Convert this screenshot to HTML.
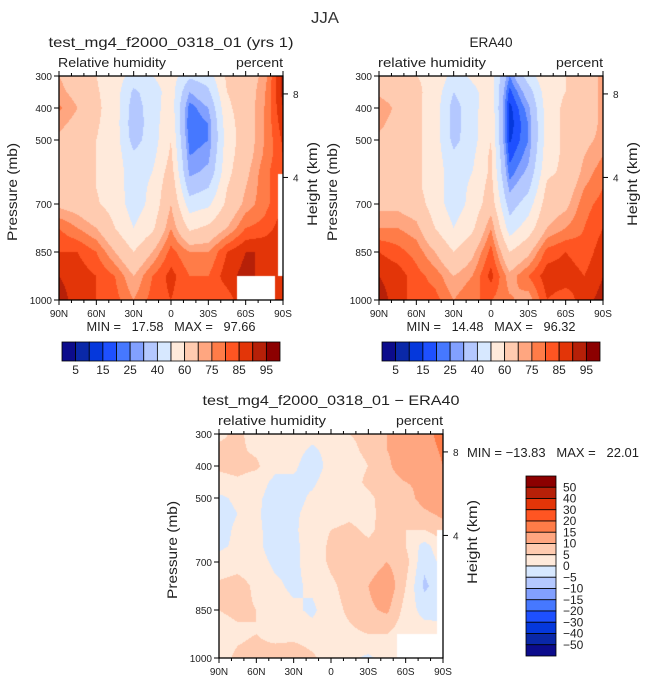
<!DOCTYPE html>
<html><head><meta charset="utf-8">
<style>
body{margin:0;background:#fff;width:647px;height:682px;overflow:hidden;position:relative;font-family:"Liberation Sans",sans-serif;}
canvas{position:absolute;left:0;top:0;}
svg{position:absolute;left:0;top:0;}
text{white-space:pre;}
</style></head>
<body>
<canvas id="cv" width="647" height="682"></canvas>
<svg id="sv" width="647" height="682"></svg>
<script>
const lats=['90N','75N','60N','45N','30N','15N','0','15S','30S','45S','60S','75S','90S'];
const latTicks=['90N','60N','30N','0','30S','60S','90S'];
const levels=[300,350,400,450,500,550,600,650,700,775,850,925,1000];
const pTicks=[300,400,500,700,850,1000];
const hTicks=[8,4];
const hTickP=[356,617];
const rhBounds=[5,10,15,20,25,30,40,50,60,70,75,80,85,90,95];
const rhLabels=['5','15','25','40','60','75','85','95'];
const dBounds=[-50,-40,-30,-20,-15,-10,-5,0,5,10,15,20,30,40,50];
const dLabels=['50','40','30','20','15','10','5','0','\u22125','\u221210','\u221215','\u221220','\u221230','\u221240','\u221250'];
const colors=['#0c0c8c','#0a28a8','#0538dc','#1e50ff','#4678ff','#82a0ff','#b4c8ff','#d7e8ff','#ffeadb','#ffcbb0','#ffa680','#ff7c48','#ff5522','#e33508','#b62008','#8c0000'];
const model=[
[70,72,76,72,68,66,66,66,68,80,85,90,92],
[65,67,70,67,65,65,65,65,66,75,85,88,88],
[60,61,62,61,60,60,60,60,61,70,80,85,85],
[55,55,55,55,55,55,55,55,56,60,70,80,82],
[46,38,35,34,36,42,45,45,45,50,60,70,75],
[50,45,45,45,45,47,50,52,53,58,70,80,82],
[55,55,56,58,60,62,65,68,70,75,82,87,85],
[42,30,22,20,22,25,28,35,45,58,75,80,80],
[45,38,30,25,25,28,32,40,48,62,75,80,80],
[62,60,58,56,55,56,57,60,62,70,85,88,82],
[65,65,65,65,65,66,68,70,72,80,90,92,90],
[72,74,75,75,75,76,78,78,78,82,90,88,88],
[92,92,90,88,86,85,85,85,85,88,90,90,90]];
const era=[
[62,68,75,72,68,65,65,65,68,75,85,90,92],
[62,65,68,66,65,65,65,65,68,75,82,88,88],
[60,62,62,62,62,62,62,62,65,72,78,82,82],
[58,56,55,55,55,55,55,55,55,60,70,78,82],
[46,40,36,36,37,42,45,45,45,50,60,70,75],
[52,47,46,46,46,48,50,52,53,58,68,75,80],
[55,56,58,60,60,62,62,64,66,75,82,87,80],
[25,18,13,12,14,18,22,28,35,45,60,72,76],
[45,35,28,25,25,28,32,38,45,55,68,80,72],
[58,56,55,55,55,56,58,62,65,70,82,88,85],
[60,60,62,62,62,62,62,65,68,75,85,88,82],
[65,65,65,65,68,70,72,75,78,80,82,85,88],
[72,72,72,72,72,75,78,80,82,85,88,90,92]];
const diff=[
[4,6,6,3,-1,-2,-2,-1,2,6,5,3,3],
[6,6,7,4,1,0,1,1,3,7,6,4,6],
[3,4,6,2,1,1,1,1,2,4,5,5,7],
[1,0,1,-1,-2,-3,-2,-2,-1,1,2,3,8],
[3,2,1,-1,-2,-1,-1,-1,-1,-1,1,3,9],
[2,-1,-3,-1,1,2,3,2,2,1,-1,2,6],
[2,2,2,3,3,3,5,6,6,4,3,3,2],
[5,4,3,3,3,4,6,8,7,7,6,4,1],
[6,6,5,6,4,3,4,6,7,10,9,5,-1],
[10,10,9,8,7,8,7,8,10,14,11,5,2],
[11,12,13,10,8,6,5,5,7,5,3,2,1],
[12,12,11,11,12,9,5,-2,-4,-6,-2,3,3],
[18,16,15,14,14,11,8,4,2,-2,-2,2,3]];

const NS='http://www.w3.org/2000/svg';
const sv=document.getElementById('sv');
const ctx=document.getElementById('cv').getContext('2d');
function el(t,a,txt){const e=document.createElementNS(NS,t);for(const k in a)e.setAttribute(k,a[k]);if(txt!==undefined)e.textContent=txt;sv.appendChild(e);return e;}
function hex(c){return [parseInt(c.substr(1,2),16),parseInt(c.substr(3,2),16),parseInt(c.substr(5,2),16)];}
const rgb=colors.map(hex);
function bin(v,b){let i=0;while(i<b.length&&v>=b[i])i++;return i;}
function txt(x,y,s,size,anchor,name,extra){const t=el('text',Object.assign({x:x,y:y,'font-size':size,'text-anchor':anchor||'middle',fill:'#000'},extra||{}),s);return t;}
function sp(len){return {textLength:len,lengthAdjust:'spacingAndGlyphs',fill:'#222'};}

function panel(P){
  const x0=P.x0,y0=P.y0,W=224,H=224;
  const xs=v=>x0+v/12*W;
  const ys=p=>y0+(p-300)/700*H;
  const img=ctx.createImageData(W,H);
  for(let py=0;py<H;py++){
    const p=300+(py+0.5)/H*700;
    let r=0;while(r<levels.length-2&&p>levels[r+1])r++;
    const fy=(p-levels[r])/(levels[r+1]-levels[r]);
    for(let px=0;px<W;px++){
      const fc=(px+0.5)/W*12;let c=Math.min(11,Math.floor(fc));const fx=fc-c;
      const d=P.data;
      const v=(d[c][r]*(1-fx)+d[c+1][r]*fx)*(1-fy)+(d[c][r+1]*(1-fx)+d[c+1][r+1]*fx)*fy;
      const col=rgb[bin(v,P.bounds)];const k=(py*W+px)*4;
      img.data[k]=col[0];img.data[k+1]=col[1];img.data[k+2]=col[2];img.data[k+3]=255;
    }
  }
  ctx.putImageData(img,x0,y0);
  ctx.fillStyle='#fff';
  (P.masks||[]).forEach(m=>ctx.fillRect(x0+m[0],y0+m[1],m[2],m[3]));
  const f=el('rect',{x:x0,y:y0,width:W,height:H,fill:'none',stroke:'#000','stroke-width':1.3});
  
  for(let i=0;i<=18;i++){
    const x=x0+i/18*W;const maj=i%3===0;const L=maj?5:3;
    el('line',{x1:x,x2:x,y1:y0,y2:y0-L,stroke:'#000','stroke-width':1});
    el('line',{x1:x,x2:x,y1:y0+H,y2:y0+H+L,stroke:'#000','stroke-width':1});
  }
  latTicks.forEach((l,i)=>txt(xs(i*2),y0+H+17,l,10,'middle','x-tick-label',{fill:'#222'}));
  pTicks.forEach(p=>{el('line',{x1:x0,x2:x0-5,y1:ys(p),y2:ys(p),stroke:'#000'});txt(x0-7,ys(p)+4,String(p),10,'end','y-tick-label',{fill:'#222'});});
  hTicks.forEach((h,i)=>{const y=ys(hTickP[i]);el('line',{x1:x0+W,x2:x0+W+5,y1:y,y2:y,stroke:'#000'});txt(x0+W+10,y+4,String(h),10,'start','height-tick-label',{fill:'#222'});});
  const yc=y0+H/2+4;
  txt(0,0,'Pressure (mb)',14,'middle','y-axis-title',Object.assign({transform:`translate(${x0-42},${yc}) rotate(-90)`},sp(98)));
  txt(0,0,'Height (km)',14,'middle','height-axis-title',Object.assign({transform:`translate(${x0+W+34},${yc-8}) rotate(-90)`},sp(84)));
  txt(x0-1,y0-9,P.sub,13,'start','variable-label',sp(P.subW));
  txt(x0+W,y0-9,'percent',13,'end','units-label',sp(47));
  txt(P.tx,y0-29,P.title,14,'middle','panel-title',sp(P.tw));
}
panel({name:'model-panel',x0:59,y0:76,data:model,bounds:rhBounds,sub:'Relative humidity',subW:108,title:'test_mg4_f2000_0318_01 (yrs 1)',tx:171,tw:245,masks:[[178,200,38,24],[219,98,5,102]]});
panel({name:'era40-panel',x0:379,y0:76,data:era,bounds:rhBounds,sub:'relative humidity',subW:108,title:'ERA40',tx:491,tw:43});
panel({name:'diff-panel',x0:219,y0:434,data:diff,bounds:dBounds,sub:'relative humidity',subW:108,title:'test_mg4_f2000_0318_01 \u2212 ERA40',tx:331,tw:257,masks:[[178,200,46,24],[218,96,6,104]]});

txt(325,23,'JJA',16,'middle','figure-title',Object.assign(sp(28),{fill:'#333'}));
txt(171,331,'MIN =   17.58   MAX =   97.66',13,'middle','model-min-max',sp(169));
txt(491,331,'MIN =   14.48   MAX =   96.32',13,'middle','era40-min-max',sp(169));
txt(467,457,'MIN = \u221213.83   MAX =   22.01',13,'start','diff-min-max',sp(172));

function hbar(x0,name){
  const w=218/16;
  colors.forEach((c,i)=>{const r=el('rect',{x:x0+i*w,y:342,width:w,height:19,fill:c,stroke:'#000','stroke-width':0.8});});
  rhLabels.forEach((l,i)=>txt(x0+(1+2*i)*w,374,l,12,'middle',name+'-label',{fill:'#222'}));
}
hbar(62,'model-colorbar');hbar(382,'era40-colorbar');
(function(){const x=526,y=476,h=180/16;
  colors.slice().reverse().forEach((c,i)=>{const r=el('rect',{x:x,y:y+i*h,width:30,height:h,fill:c,stroke:'#000','stroke-width':0.8});});
  dLabels.forEach((l,i)=>txt(563,y+(i+1)*h+4,l,12,'start','diff-colorbar-label',{fill:'#222'}));
})();
</script>
</body></html>
